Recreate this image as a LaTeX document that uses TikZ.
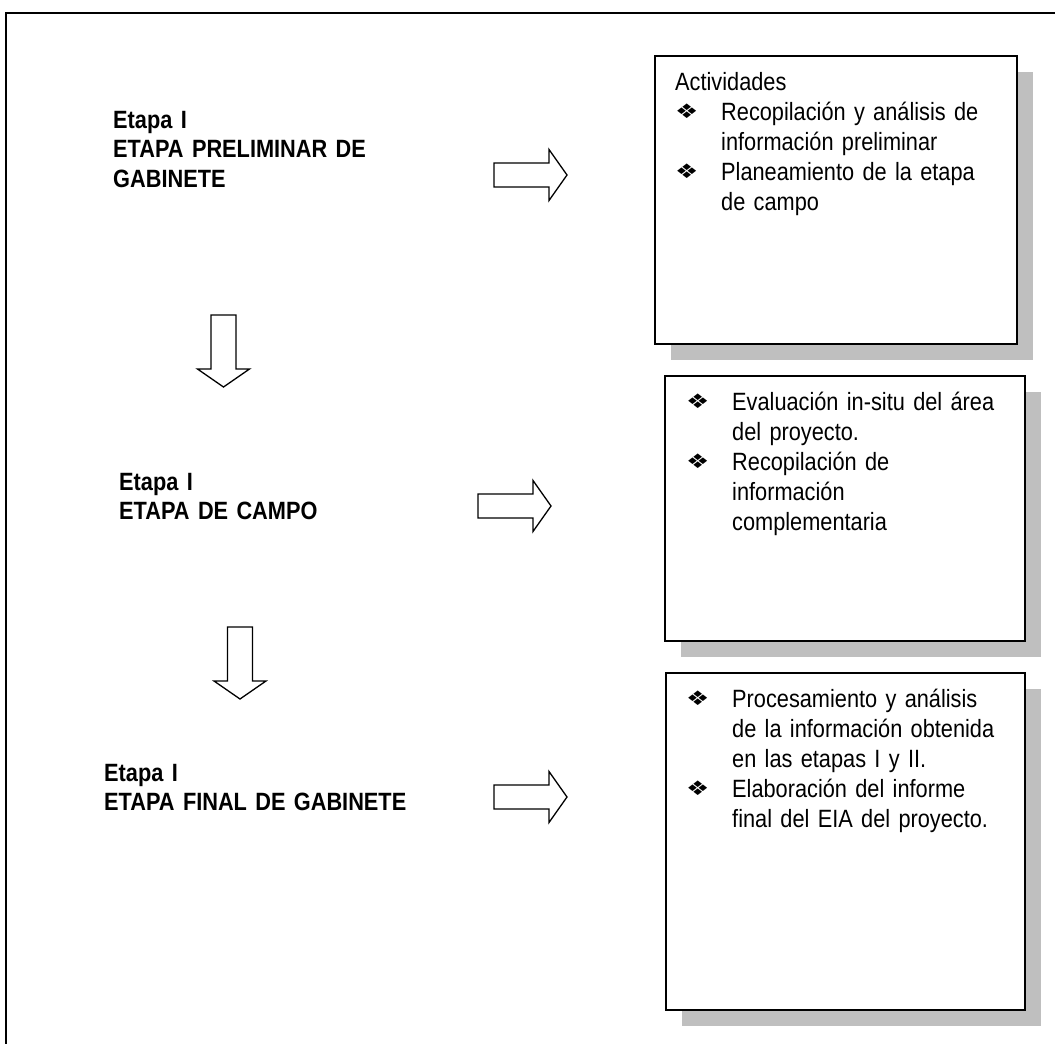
\documentclass[tikz,border=0pt]{standalone}
\usepackage{fontspec}
\setmainfont[FakeStretch=0.87]{Liberation Sans}
\newfontfamily\bulfont{DejaVu Sans}
\usetikzlibrary{shadows, positioning}
\newcommand{\bul}{\makebox[46pt][l]{\raisebox{2pt}{\scalebox{1.3}[1]{\bulfont\fontsize{20}{20}\selectfont ❖}}}}
\newcommand{\ind}{\hspace*{46pt}}
\tikzset{
  actbox/.style={
    rectangle, draw=black, line width=1.8pt, fill=white,
    anchor=north west, inner sep=0pt,
    drop shadow={shadow xshift=16pt, shadow yshift=-16pt,
                 fill=black!25, opacity=1}
  },
  actext/.style={
    anchor=base west, inner sep=0pt, text width=330pt, align=left,
    font=\fontsize{25}{30}\selectfont
  },
  stagelbl/.style={
    anchor=base west, inner sep=0pt, text width=330pt, align=left,
    font=\fontsize{25}{29.5}\selectfont\bfseries
  },
  blockarr/.style={draw=black, line width=1.3pt, fill=white, line join=miter},
  rarrow/.pic={
    \draw[blockarr] (0,-12) -- (55,-12) -- (55,-25.5) -- (73,0)
      -- (55,25.5) -- (55,12) -- (0,12) -- cycle;
  },
  darrow/.pic={
    \draw[blockarr] (-12.5,0) -- (-12.5,54) -- (-26,54) -- (0,72)
      -- (26,54) -- (12.5,54) -- (12.5,0) -- cycle;
  },
}
\begin{document}
\begin{tikzpicture}[x=1pt, y=-1pt]
  \useasboundingbox (0,0) rectangle (1055,1044);
  % marco exterior
  \draw[line width=2pt] (6,1100) -- (6,13) -- (1100,13);

  % etapas
  \node[stagelbl] (st1) at (113,128) {Etapa I\\ETAPA PRELIMINAR DE\\GABINETE};
  \node[stagelbl] (st2) at (119,490) {Etapa I\\ETAPA DE CAMPO};
  \node[stagelbl] (st3) at (104,781) {Etapa I\\ETAPA FINAL DE GABINETE};

  % flechas
  \pic (ra1) at (494,175) {rarrow};
  \pic (ra2) at (478,506) {rarrow};
  \pic (ra3) at (494,797) {rarrow};
  \pic (da1) at (223.5,315) {darrow};
  \pic (da2) at (240,627) {darrow};

  % actividades
  \node[actbox, minimum width=362, minimum height=288] (act1) at (654,55) {};
  \node[actext] (txt1) at (675,90)
       {Actividades\\
        \bul Recopilación y análisis de\\
        \ind información preliminar\\
        \bul Planeamiento de la etapa\\
        \ind de campo};

  \node[actbox, minimum width=360, minimum height=265] (act2) at (664,375) {};
  \node[actext] (txt2) at (686,410)
       {\bul Evaluación in-situ del área\\
        \ind del proyecto.\\
        \bul Recopilación de\\
        \ind información\\
        \ind complementaria};

  \node[actbox, minimum width=359, minimum height=337] (act3) at (665,672) {};
  \node[actext] (txt3) at (686,707)
       {\bul Procesamiento y análisis\\
        \ind de la información obtenida\\
        \ind en las etapas I y II.\\
        \bul Elaboración del informe\\
        \ind final del EIA del proyecto.};
\end{tikzpicture}
\end{document}
